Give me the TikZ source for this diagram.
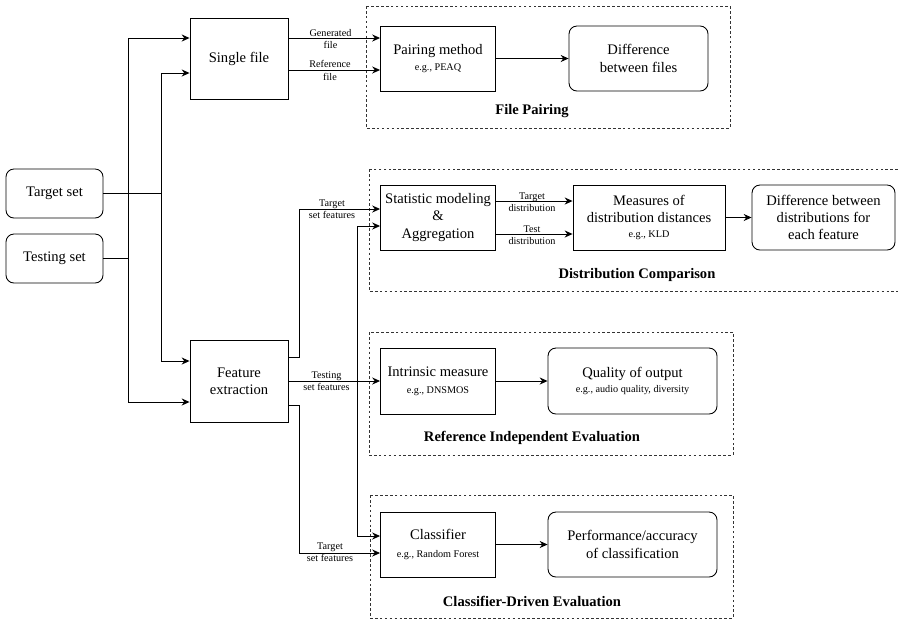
\documentclass[tikz,border=0pt]{standalone}
\usepackage{amsmath, amssymb}
\usepackage{fontspec}
\setmainfont{Liberation Serif}
\usetikzlibrary{arrows.meta}

\newcommand{\eg}[1]{{\fontsize{5.8}{7}\selectfont #1}}

\begin{document}
\begin{tikzpicture}[x=0.02cm, y=-0.02cm]
\tikzstyle{box}=[draw=black, line width=0.5pt, align=center, inner sep=1pt, font=\fontsize{8.3}{9.8}\selectfont]
\tikzstyle{rbox}=[box, rounded corners=4.5pt]
\tikzstyle{group}=[draw=black!80, line width=0.45pt, dash pattern=on 1.5pt off 1.3pt]
\tikzstyle{title}=[font=\fontsize{8.3}{9.8}\selectfont\bfseries]
\tikzstyle{lab}=[align=center, inner sep=0pt, font=\fontsize{5.8}{7}\selectfont]
\tikzstyle{arr}=[line width=0.5pt, -{Stealth[length=4.5pt, width=4pt]}]
\tikzstyle{ln}=[line width=0.5pt]

\useasboundingbox (0,0) rectangle (898,620);

% groups
\draw[group] (366,6) rectangle (730,128);
\draw[group] (369,169) rectangle (905,291);
\draw[group] (369,332) rectangle (733,455);
\draw[group] (370,495) rectangle (733,618);

\node (t1) at (532,111) [title] {File Pairing};
\node (t2) at (637,275) [title] {Distribution Comparison};
\node (t3) at (532,438) [title] {Reference Independent Evaluation};
\node (t4) at (532,601) [title] {Classifier-Driven Evaluation};

% inputs
\node (tgt) at (54.5,193.5) [rbox, minimum width=1.94cm, minimum height=0.98cm] {Target set};
\node (tst) at (54.5,258.5) [rbox, minimum width=1.94cm, minimum height=0.98cm] {Testing set};

\node (single) at (239,58.5) [box, minimum width=1.96cm, minimum height=1.62cm] {Single file};
\node (feat) at (239,381) [box, minimum width=1.96cm, minimum height=1.64cm] {Feature\\extraction};

% file pairing
\node (pair) at (438,58.5) [box, minimum width=2.3cm, minimum height=1.3cm] {Pairing method\\[-1pt]\eg{e.g., PEAQ}};
\node (dfiles) at (638.5,58.5) [rbox, minimum width=2.78cm, minimum height=1.3cm] {Difference\\between files};

% distribution comparison
\node (stat) at (438,217.5) [box, minimum width=2.3cm, minimum height=1.3cm] {Statistic modeling\\\&\\Aggregation};
\node (meas) at (649,217.5) [box, minimum width=3.04cm, minimum height=1.3cm] {Measures of\\distribution distances\\[-1pt]\eg{e.g., KLD}};
\node (ddist) at (823.5,217.5) [rbox, minimum width=2.86cm, minimum height=1.3cm] {Difference between\\distributions for\\each feature};

% reference independent
\node (intr) at (438,381) [box, minimum width=2.3cm, minimum height=1.32cm] {Intrinsic measure\\\eg{e.g., DNSMOS}};
\node (qual) at (632.5,381) [rbox, minimum width=3.38cm, minimum height=1.32cm] {Quality of output\\[-1pt]\eg{e.g., audio quality, diversity}};

% classifier driven
\node (clf) at (438,544.5) [box, minimum width=2.3cm, minimum height=1.3cm] {Classifier\\\eg{e.g., Random Forest}};
\node (perf) at (632.5,544.5) [rbox, minimum width=3.38cm, minimum height=1.3cm] {Performance/accuracy\\of classification};

\coordinate (j1) at (161,193.5);
\coordinate (j2) at (128,258.5);
\coordinate (j3) at (299,0);
\coordinate (j4) at (357,381);
\coordinate (s1) at ([yshift=0.17cm]stat.west);
\coordinate (s2) at ([yshift=-0.17cm]stat.west);
\coordinate (c1) at ([yshift=0.17cm]clf.west);
\coordinate (c2) at ([yshift=-0.17cm]clf.west);

% inputs to single file / features
\draw[ln] (tgt.east) -- (j1);
\draw[arr] (j1) |- ([yshift=-0.29cm]single.west);
\draw[arr] (j1) |- ([yshift=0.4cm]feat.west);
\draw[ln] (tst.east) -- (j2);
\draw[arr] (j2) |- ([yshift=0.41cm]single.west);
\draw[arr] (j2) |- ([yshift=-0.42cm]feat.west);

% single file to pairing
\draw[arr] ([yshift=0.41cm]single.east) -- ([yshift=0.41cm]pair.west);
\draw[arr] ([yshift=-0.23cm]single.east) -- ([yshift=-0.23cm]pair.west);
\node (l1) at (330.5,38.8) [lab] {Generated\\file};
\node (l2) at (330,70.5) [lab] {Reference\\file};
\draw[arr] (pair) -- (dfiles);

% statistics
\draw[arr] ([yshift=0.33cm]stat.east) -- ([yshift=0.33cm]meas.west);
\draw[arr] ([yshift=-0.33cm]stat.east) -- ([yshift=-0.33cm]meas.west);
\node (l3) at (532,202) [lab] {Target\\distribution};
\node (l4) at (532,235) [lab] {Test\\distribution};
\draw[arr] (meas) -- (ddist);

% features out
\draw[arr] ([yshift=0.48cm]feat.east) -| (j3 |- s1) -- (s1);
\draw[arr] (feat) -- (intr);
\draw[arr] ([yshift=-0.48cm]feat.east) -| (j3 |- c2) -- (c2);
\draw[arr] (j4) |- (s2);
\draw[arr] (j4) |- (c1);
\node (l5) at (332,209) [lab] {Target\\set features};
\node (l6) at (326.5,381) [lab] {Testing\\set features};
\node (l7) at (330,552) [lab] {Target\\set features};

\draw[arr] (intr) -- (qual);
\draw[arr] (clf) -- (perf);
\end{tikzpicture}
\end{document}
